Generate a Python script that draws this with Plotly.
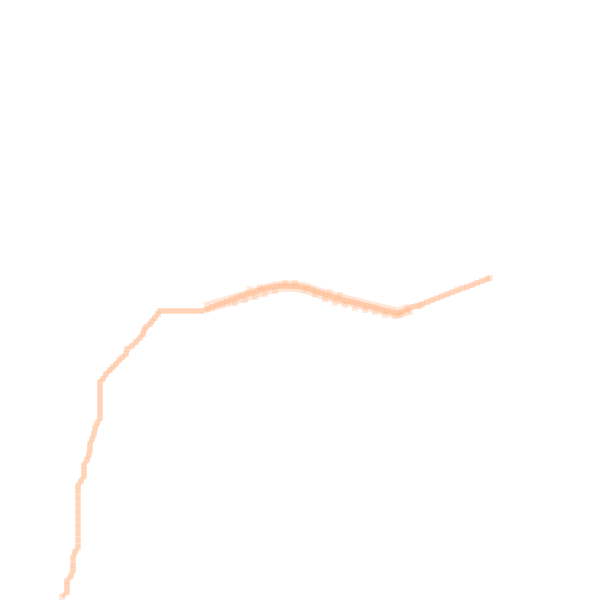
import plotly.graph_objects as go

# Points along the curve
x_main = [62, 67, 67, 67, 71, 73, 73, 73, 75, 78, 78, 78, 78, 78, 78, 78, 78, 78, 78,
          81, 84, 84, 84, 87, 89, 90, 90, 92, 94, 95, 97, 100, 100, 100, 100, 100, 100, 100,
          103, 106, 110, 113, 116, 119, 122, 126, 127, 132, 136, 140, 143, 144, 146, 150, 152,
          155, 158, 160, 166, 172, 178, 184, 190, 196, 202, 207, 212, 217, 222, 227, 232, 237,
          242, 247, 252, 257, 262, 267, 272, 277, 282, 287, 292, 297, 302, 307, 312, 317, 322,
          327, 332, 337, 342, 347, 352, 357, 362, 367, 372, 377, 382, 387, 392, 397, 402, 407,
          412, 417, 422, 427, 432, 437, 442, 447, 452, 457, 462, 467, 472, 477, 482, 487, 490]
y_main = [597, 592, 586, 581, 576, 570, 565, 558, 552, 547, 540, 533, 526, 519, 512, 505, 498, 491, 486,
          481, 476, 470, 465, 460, 455, 450, 444, 439, 434, 428, 423, 418, 412, 406, 400, 394, 388, 382,
          379, 374, 370, 367, 364, 360, 357, 354, 349, 346, 342, 338, 334, 330, 327, 324, 321,
          318, 314, 311, 311, 311, 311, 311, 311, 311, 311, 309, 307, 305, 304, 302, 300, 298,
          296, 294, 293, 291, 289, 288, 287, 286, 286, 286, 286, 286, 287, 288, 290, 292, 293,
          295, 297, 298, 300, 301, 302, 303, 305, 306, 307, 308, 310, 311, 312, 313, 312, 309,
          307, 306, 304, 302, 300, 298, 296, 294, 292, 290, 288, 287, 285, 283, 281, 279, 278]

# Wider scatter of the middle section
x_band = [205, 230, 255, 275, 290, 305, 325, 345, 365, 385, 398, 410]
y_band = [308, 300, 292, 287, 286, 288, 295, 301, 305, 310, 313, 309]

x_extra = [235, 245, 250, 255, 260, 265, 275, 285, 295, 305, 315, 325, 330, 335, 340, 345,
           355, 365, 375, 385, 395, 400, 410, 420]
y_extra = [303, 300, 289, 297, 287, 294, 291, 283, 283, 290, 294, 299, 292, 303, 295, 305,
           308, 310, 312, 315, 316, 315, 311, 306]

fig = go.Figure()
fig.add_trace(go.Scatter(
    x=x_band, y=y_band, mode="lines",
    line=dict(color="rgba(255,187,142,0.35)", width=11),
    hoverinfo="skip",
))
fig.add_trace(go.Scatter(
    x=x_main, y=y_main, mode="lines",
    line=dict(color="rgba(255,187,142,0.45)", width=5),
    hoverinfo="skip",
))
fig.add_trace(go.Scatter(
    x=x_main + x_extra, y=y_main + y_extra, mode="markers",
    marker=dict(symbol="square", size=6, color="rgb(255,187,142)", opacity=0.3,
                line=dict(width=0)),
    hoverinfo="skip",
))
fig.update_layout(
    width=600, height=600,
    margin=dict(l=0, r=0, t=0, b=0),
    paper_bgcolor="white", plot_bgcolor="white",
    showlegend=False,
    xaxis=dict(range=[0, 600], visible=False),
    yaxis=dict(range=[600, 0], visible=False),
)
fig.write_html(
    "out.html",
    config={"displayModeBar": False},
    post_script="document.body.style.margin='0';document.body.style.overflow='hidden';",
)
